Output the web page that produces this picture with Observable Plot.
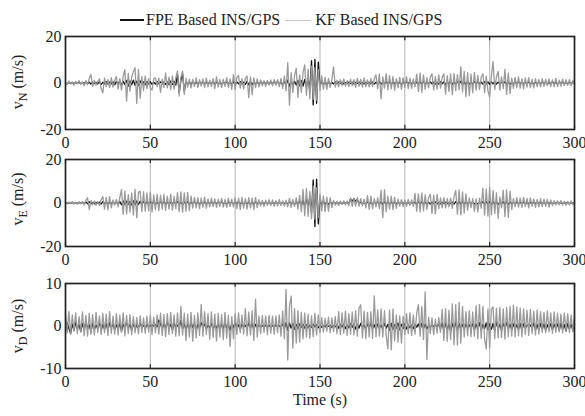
<!DOCTYPE html>
<html><head><meta charset="utf-8">
<script src="https://cdn.jsdelivr.net/npm/d3@7"></script>
<script src="https://cdn.jsdelivr.net/npm/@observablehq/plot@0.6"></script>
<style>
body{margin:0;background:#fff;}
#wrap{position:relative;width:585px;height:416px;font-family:"Liberation Serif","Times New Roman",serif;color:#222;}
#wrap svg{display:block;}
.legend{position:absolute;top:10px;left:120px;height:20px;display:flex;align-items:center;font-size:16px;white-space:nowrap;}
.legend .sw{display:inline-block;width:24px;margin-right:2px;}
.ylab{position:absolute;left:20px;width:0;height:0;font-size:16px;white-space:nowrap;}
.ylab span.in{position:absolute;transform:translate(-50%,-50%) rotate(-90deg);white-space:nowrap;}
.ylab sub{font-size:12px;}
</style>
</head><body>
<div id="wrap"></div>
<script>
// x ticks and y ticks
const xTicks = [0, 50, 100, 150, 200, 250, 300];
const yTicksNE = [-20, 0, 20];
const yTicksD = [-10, 0, 10];
const legendLabels = ["FPE Based INS/GPS", "KF Based INS/GPS"];
const xLabel = "Time (s)";

// v_N, KF based (gray), 1 s samples t = 0..300
const kfN = [
0.4,-0.6,0.8,-0.5,0.3,-0.9,0.7,-0.4,1.0,-0.6,
0.5,-1.2,1.1,-0.8,2.0,3.6,-1.5,1.2,-0.9,0.6,
1.8,-2.4,-4.2,2.1,-1.6,1.4,-2.0,2.3,-1.8,1.0,
2.8,-2.6,1.9,-3.1,3.0,5.7,-7.8,4.2,-3.5,2.6,
4.8,6.6,-8.8,5.9,-6.5,2.8,-3.2,3.0,-2.4,1.9,
-2.2,-3.0,1.8,2.2,-1.6,2.1,-4.0,1.7,-1.9,4.3,
-2.1,2.5,-2.8,3.0,-2.6,2.2,5.2,-5.6,2.4,5.1,
-4.9,2.0,-1.8,1.7,-2.1,1.6,-1.5,2.2,-1.9,1.4,
-1.3,1.8,-2.0,2.1,-1.7,1.2,-1.5,1.9,-2.4,2.6,
-1.8,1.5,-2.0,1.6,-1.4,2.2,-1.9,1.8,-2.7,3.6,
-2.8,2.4,3.1,-2.2,1.9,-2.6,2.0,3.0,-6.3,2.6,
-5.0,2.2,-2.0,1.8,-1.7,1.3,-1.2,1.0,-1.4,1.1,
-0.9,1.3,-1.2,1.5,-1.0,1.4,-1.6,2.0,-2.3,3.0,
-3.4,8.8,-9.6,4.5,-4.1,3.2,6.3,-6.2,3.5,-4.0,
4.6,7.8,-5.3,6.0,-6.8,7.2,-7.0,6.6,-7.4,5.8,
-3.2,3.0,-2.6,2.4,-2.8,2.0,-1.9,1.6,6.9,-1.8,
1.2,-1.6,1.4,-1.1,1.8,-1.3,1.0,-1.5,1.7,-1.2,
1.5,-1.9,2.0,-1.4,1.6,-1.8,2.2,-1.6,1.3,-1.7,
2.0,-1.5,1.8,3.5,-2.4,3.9,-6.8,2.6,-2.2,4.0,
-2.9,3.2,-2.5,2.8,-3.1,1.9,-2.0,2.4,-2.6,2.2,
-1.9,2.6,-2.4,2.1,-2.3,1.8,-1.7,3.8,-3.6,4.3,
-4.0,3.5,-2.8,2.3,-2.1,2.6,3.9,-3.0,2.8,-2.6,
3.5,-2.2,2.4,4.0,-4.8,3.2,-3.6,3.9,-5.0,4.1,
-3.3,3.6,-2.9,7.0,-3.8,5.0,-5.9,4.4,-5.5,3.8,
-4.2,4.6,-3.1,3.3,-2.8,2.5,4.0,-4.1,2.9,-3.4,
-6.0,3.1,9.2,-2.8,2.6,5.0,-3.1,2.7,-2.4,5.9,
-4.9,4.3,-4.6,2.1,-2.3,2.4,-2.0,2.6,-2.2,1.9,
-2.5,2.2,-1.8,2.3,-2.0,1.7,-2.1,1.9,-1.6,1.5,
-1.7,1.9,-1.4,1.6,-1.2,1.8,-1.5,1.3,-1.6,2.0,
-1.4,1.2,-1.3,1.6,-1.1,1.4,-1.0,1.5,-1.2,1.1,
-0.8];

// v_N, FPE based (black)
const fpeN = [
0.1,-0.3,0.2,-0.2,0.3,-0.4,0.2,-0.1,0.3,-0.3,
0.2,-0.2,0.4,-0.3,0.3,-0.5,0.4,-0.2,0.3,-0.4,
0.5,-0.6,0.3,-0.4,0.6,-0.5,0.4,-0.3,0.5,-0.7,
0.6,-0.5,0.8,-0.9,0.7,-0.6,1.1,-1.3,0.9,-0.8,
1.2,-1.0,0.8,-1.1,0.9,-0.6,0.5,-0.7,0.6,-0.4,
0.5,-0.6,0.4,-0.5,0.6,-0.4,0.5,-0.3,0.4,-0.6,
0.5,-0.7,0.8,-0.6,0.7,-0.9,3.8,-4.1,1.0,3.9,
-3.6,0.6,-0.5,0.4,-0.6,0.5,-0.4,0.3,-0.5,0.4,
-0.3,0.5,-0.4,0.3,-0.5,0.4,-0.3,0.6,-0.5,0.4,
-0.4,0.3,-0.5,0.4,-0.3,0.5,-0.4,0.6,-0.7,0.5,
-0.6,0.5,-0.4,0.6,-0.5,0.4,-0.6,0.7,-0.8,0.6,
-0.7,0.5,-0.4,0.3,-0.5,0.4,-0.3,0.5,-0.4,0.3,
-0.5,0.4,-0.3,0.5,-0.4,0.6,-0.5,0.4,-0.6,0.7,
-0.8,1.2,-1.4,0.9,-1.0,0.8,-0.9,1.1,-1.2,1.0,
-1.3,1.5,-1.8,2.4,-3.5,9.6,-9.4,10.1,-8.7,9.0,
-1.2,0.8,-0.6,0.5,-0.7,0.4,-0.5,0.3,-0.4,0.5,
-0.3,0.4,-0.2,0.3,-0.4,0.2,-0.3,0.4,-0.2,0.3,
-0.4,0.3,-0.2,0.4,-0.3,0.2,-0.4,0.3,-0.2,0.3,
-0.3,0.4,-0.5,0.3,-0.4,0.6,-0.5,0.4,-0.3,0.5,
-0.4,0.3,-0.5,0.4,-0.3,0.5,-0.4,0.3,-0.5,0.4,
-0.3,0.4,-0.2,0.5,-0.4,0.3,-0.5,0.4,-0.3,0.5,
-0.4,0.6,-0.5,0.4,-0.3,0.5,-0.4,0.3,-0.5,0.4,
-0.5,0.6,-0.4,0.5,-0.7,0.6,-0.5,0.7,-0.6,0.5,
-0.6,0.7,-0.5,0.8,-0.6,0.5,-0.7,0.6,-0.5,0.4,
-0.5,0.6,-0.4,0.5,-0.3,0.4,-0.5,0.6,-0.4,0.5,
-0.6,0.5,-0.4,0.6,-0.5,0.4,-0.3,0.5,-0.4,0.6,
-0.5,0.4,-0.6,0.3,-0.4,0.5,-0.3,0.4,-0.2,0.3,
-0.4,0.3,-0.2,0.4,-0.3,0.2,-0.4,0.3,-0.2,0.3,
-0.3,0.4,-0.2,0.3,-0.4,0.2,-0.3,0.4,-0.2,0.3,
-0.4,0.3,-0.2,0.3,-0.3,0.2,-0.4,0.3,-0.2,0.3,
-0.2];

// v_E, KF based (gray)
const kfE = [
0.3,-0.4,0.5,-0.3,0.6,-0.5,0.4,-0.6,0.5,-0.4,
0.7,-0.9,1.2,2.4,-3.0,1.1,-0.8,0.9,-1.0,0.7,
-1.2,1.5,3.0,-2.8,2.6,-3.1,2.9,-2.2,1.4,-1.0,
1.6,-1.8,2.5,6.2,-5.3,5.6,-5.0,3.8,-4.2,4.6,
-5.5,6.3,-6.8,4.9,5.4,-4.0,5.2,-3.8,4.6,-3.6,
5.0,-4.1,3.7,-3.2,4.0,-3.5,3.6,-2.9,3.9,-3.4,
3.2,-2.8,4.1,-3.3,3.0,-2.6,4.8,-3.9,5.1,-4.2,
4.6,-3.8,4.9,-3.5,3.2,-2.4,2.6,-2.2,2.5,-2.6,
2.3,-2.0,2.7,-2.4,1.9,-1.8,2.2,-1.7,1.9,-2.0,
1.8,-1.6,2.1,-1.9,1.7,-2.0,2.2,-1.5,1.8,-1.9,
2.4,-2.6,2.2,-3.0,2.6,-2.4,2.0,-2.8,2.5,-2.2,
2.3,-3.0,2.6,-2.1,1.5,-1.4,1.2,-1.6,1.3,-1.1,
1.5,-1.2,1.4,-1.5,1.1,-1.3,1.6,-1.2,1.0,-1.4,
1.3,-1.8,2.1,-2.0,1.7,-1.6,2.4,-2.8,3.5,-4.0,
6.3,-5.8,6.6,-6.1,5.4,-7.2,7.8,-7.5,7.0,-6.6,
4.0,-3.6,3.1,-4.0,2.7,-3.8,2.4,-2.1,1.2,-1.0,
0.8,-1.1,0.9,-0.7,1.0,-0.8,0.9,-1.2,2.4,-1.5,
2.2,-1.4,2.5,-1.6,2.0,-1.3,1.8,-2.2,3.4,-2.9,
3.2,-2.7,2.0,-1.8,2.4,-2.6,5.9,-6.8,6.1,-4.0,
3.0,-2.8,3.2,-3.0,2.6,-2.5,1.8,-1.4,1.5,-1.6,
1.3,-1.5,1.6,-1.2,1.4,-1.6,4.4,-3.8,4.2,-4.1,
4.6,-3.6,3.8,-2.9,2.5,4.0,-4.8,3.6,-5.0,3.9,
-2.6,2.4,-2.2,2.5,-2.3,2.0,-1.8,2.2,-2.5,3.0,
5.8,-5.2,6.0,-5.5,5.1,-4.6,4.2,-3.3,2.4,-2.1,
2.0,-3.8,1.9,-4.1,2.2,-2.4,6.8,-5.6,6.4,-6.0,
7.1,-5.4,5.8,-4.8,4.6,-7.0,2.8,-2.2,5.9,-6.3,
6.0,-6.6,5.5,-3.0,2.0,-1.8,2.5,-1.9,2.3,-2.0,
2.6,-1.7,2.1,-2.2,2.4,-1.6,1.9,-2.0,1.7,-1.8,
2.0,-1.6,1.8,-1.5,1.7,-1.9,1.4,-1.2,1.1,-0.9,
1.0,-0.8,1.1,-0.9,0.8,-1.0,0.7,-0.9,1.0,-0.8,
0.6];

// v_E, FPE based (black)
const fpeE = [
0.2,-0.3,0.2,-0.2,0.3,-0.3,0.2,-0.2,0.3,-0.2,
0.3,-0.4,0.5,-0.4,0.6,-0.5,0.3,-0.4,0.3,-0.2,
0.4,-0.5,0.6,-0.4,0.5,-0.6,0.4,-0.3,0.5,-0.4,
0.5,-0.6,0.7,-0.8,0.9,-0.7,0.8,-0.6,0.7,-0.9,
1.0,-0.8,0.9,-0.7,0.8,-0.6,0.7,-0.5,0.6,-0.5,
0.6,-0.4,0.5,-0.6,0.4,-0.5,0.6,-0.4,0.5,-0.3,
0.4,-0.5,0.3,-0.4,0.5,-0.3,0.6,-0.5,0.4,-0.6,
0.5,-0.4,0.6,-0.5,0.4,-0.3,0.5,-0.4,0.3,-0.4,
0.3,-0.5,0.4,-0.3,0.5,-0.4,0.3,-0.4,0.5,-0.3,
0.4,-0.3,0.5,-0.4,0.3,-0.5,0.4,-0.3,0.4,-0.4,
0.5,-0.4,0.6,-0.5,0.4,-0.6,0.5,-0.4,0.3,-0.5,
0.4,-0.6,0.5,-0.3,0.4,-0.3,0.2,-0.4,0.3,-0.2,
0.3,-0.4,0.2,-0.3,0.4,-0.2,0.3,-0.4,0.2,-0.3,
0.4,-0.5,0.6,-0.4,0.5,-0.7,0.8,-0.9,1.0,-1.2,
1.4,-1.6,2.0,-2.4,3.0,-4.5,10.6,-10.8,11.0,-9.6,
2.1,-1.2,0.8,-0.7,0.5,-0.6,0.4,-0.3,0.4,-0.2,
0.3,-0.2,0.2,-0.3,0.2,-0.2,0.3,-0.2,1.8,0.9,
2.0,0.8,1.6,-0.3,0.4,-0.3,0.3,-0.4,0.5,-0.4,
0.3,-0.5,0.4,-0.3,0.4,-0.5,0.6,-0.7,0.5,-0.4,
0.5,-0.3,0.4,-0.4,0.3,-0.3,0.2,-0.3,0.2,-0.2,
0.3,-0.2,0.2,-0.3,0.2,-0.3,0.4,-0.5,0.6,-0.4,
0.5,-0.4,0.3,-0.4,0.3,-0.5,0.4,-0.3,0.5,-0.4,
0.3,-0.4,0.3,-0.2,0.4,-0.3,0.2,-0.3,0.4,-0.5,
0.6,-0.5,0.7,-0.6,0.5,-0.4,0.5,-0.3,0.4,-0.3,
0.3,-0.4,0.2,-0.5,0.3,-0.4,0.6,-0.5,0.7,-0.6,
0.8,-0.6,0.7,-0.5,0.4,-0.6,0.3,-0.4,0.6,-0.7,
0.7,-0.6,0.5,-0.4,0.3,-0.2,0.3,-0.2,0.3,-0.2,
0.3,-0.3,0.2,-0.3,0.2,-0.2,0.3,-0.2,0.3,-0.2,
0.2,-0.3,0.2,-0.2,0.3,-0.2,0.2,-0.3,0.2,-0.2,
0.3,-0.2,0.2,-0.3,0.2,-0.2,0.3,-0.2,0.2,-0.3,
0.2];

// v_D, KF based (gray)
const kfD = [
2.8,-1.6,3.4,-2.0,2.6,-1.2,3.1,-1.8,2.2,-1.4,
3.3,-2.3,2.5,-2.4,3.0,-1.9,2.7,-2.1,3.2,-1.5,
2.4,-2.0,3.0,-1.6,2.8,-2.2,3.4,-1.7,2.3,-1.9,
2.9,-2.1,2.6,-1.5,3.1,-2.3,2.5,-1.8,2.7,-2.0,
2.2,-1.6,2.0,-1.8,2.4,-1.5,1.9,-1.7,2.3,-1.4,
2.5,-2.0,2.1,-1.6,2.6,-1.9,3.0,-2.2,2.7,-2.5,
2.9,-2.0,3.2,-1.8,2.6,-2.4,3.1,-2.3,4.6,-2.1,
3.0,-3.4,2.8,-2.6,3.2,-3.6,2.5,-2.8,3.1,-2.2,
5.1,-2.4,3.4,-2.0,2.9,-3.1,3.3,-2.7,2.8,-3.5,
3.0,-2.6,2.7,-3.2,3.2,-2.9,2.5,-4.8,2.2,-3.0,
2.9,-2.0,3.1,-1.6,2.6,-1.9,4.1,-2.3,3.3,-2.1,
3.6,-3.4,6.3,-2.6,2.4,-1.8,2.5,-1.5,2.4,-2.0,
2.5,-1.7,2.3,-1.9,2.4,-1.6,2.6,-2.4,3.5,-3.0,
8.6,-8.0,4.8,7.0,-5.2,4.1,-4.0,3.6,-3.8,3.2,
-3.0,3.1,-2.6,2.8,-2.9,2.4,-2.5,3.0,-2.1,2.6,
-1.5,2.0,-1.4,1.8,-1.2,2.1,-1.6,1.9,-1.3,2.2,
-1.8,3.4,-2.0,3.1,-1.7,3.5,-2.2,2.9,-1.9,3.3,
-2.1,3.6,-2.4,4.2,5.0,-2.8,3.5,-3.0,3.2,-2.6,
3.4,-2.9,7.1,-2.5,3.8,-2.4,4.0,-2.6,3.6,-2.2,
-5.4,3.8,-5.6,4.0,-3.5,2.6,-3.8,2.4,-4.0,2.3,
-2.0,2.9,-1.8,3.1,-2.2,2.6,-1.9,3.0,5.0,-2.4,
4.6,-3.2,8.0,-7.9,2.1,-1.8,1.9,-2.0,1.6,-1.7,
2.0,-1.5,3.9,-3.4,4.1,-3.6,3.7,-3.2,5.2,-4.4,
5.0,-4.5,5.6,-4.0,4.6,-2.6,3.4,-2.3,3.6,-2.5,
3.3,-2.4,4.8,-3.0,5.1,-2.9,4.6,-3.1,-5.4,4.0,
-5.2,3.9,4.5,-3.0,4.2,-2.8,4.4,-2.7,4.0,-3.1,
4.3,-2.5,4.6,-2.4,4.9,-2.6,4.5,-2.3,4.2,-2.5,
4.0,-2.0,3.7,-2.2,3.9,-1.8,3.5,-2.1,3.8,-1.9,
3.4,-1.5,3.2,-1.6,3.6,-1.4,3.1,-1.7,3.3,-1.5,
3.0,-1.4,2.8,-1.6,3.1,-1.3,2.9,-1.5,2.6,-1.4,
2.5];

// v_D, FPE based (black)
const fpeD = [
-1.2,0.8,-0.6,-1.8,0.5,-1.0,0.9,-0.7,0.4,-1.3,
0.6,-0.9,1.0,-0.5,0.3,-1.4,0.7,-0.8,0.2,-0.6,
0.9,-1.1,0.4,-0.7,0.6,-1.0,0.8,-0.4,0.5,-0.9,
0.3,-0.8,0.7,-1.2,0.5,-0.6,0.9,-0.5,0.4,-1.0,
0.6,-0.7,0.3,-0.5,0.8,-0.4,0.2,-0.6,0.4,-0.3,
0.1,0.2,0.0,0.3,-0.2,1.4,0.5,-0.8,0.6,-0.4,
1.1,-0.6,0.4,-0.9,0.7,-0.3,0.2,-0.5,1.3,-0.7,
0.5,-0.8,0.3,-0.6,0.9,-0.4,0.6,-1.0,0.4,-0.5,
0.8,-0.3,0.5,-0.7,0.2,-0.4,0.6,-0.8,0.3,-0.5,
0.7,-0.9,0.4,-0.6,0.9,-0.5,0.3,-1.1,0.6,-0.4,
1.0,-0.6,0.3,-0.8,0.5,-0.3,0.2,-0.5,0.7,-0.4,
0.6,-0.9,0.4,-0.3,0.2,-0.2,0.1,-0.3,0.2,-0.1,
0.2,-0.3,0.1,-0.2,0.3,-0.2,0.1,-0.4,0.5,-0.6,
0.8,-1.0,0.7,-0.5,0.6,-0.8,0.4,-0.6,0.5,-0.3,
0.4,-0.5,0.3,-0.4,0.2,-0.3,0.4,-0.2,0.3,-0.4,
0.2,-0.3,0.1,-0.2,0.3,-0.1,0.2,-0.3,0.1,-0.2,
0.3,-0.5,0.4,-0.2,0.5,-0.6,0.3,-0.4,0.6,-0.3,
0.5,-0.7,0.4,-0.5,0.6,-0.3,0.2,-0.8,0.5,-0.4,
0.7,-0.6,0.3,-0.9,0.5,-0.4,0.2,-0.7,0.6,-0.5,
0.4,-1.0,0.6,-0.8,0.3,-0.5,0.7,-0.9,0.4,-0.6,
0.5,-0.7,0.3,-0.4,0.2,-0.6,0.4,-0.3,0.5,-0.8,
0.6,-0.5,0.4,-0.7,0.1,-0.2,0.2,-0.1,0.3,-0.2,
0.5,-0.6,0.8,-1.1,0.7,-0.9,0.5,-1.2,0.6,-0.8,
0.9,-1.0,0.6,-0.7,0.4,-0.8,0.5,-0.4,0.3,-0.6,
0.6,-0.9,0.5,-0.7,0.8,-1.0,0.4,-0.6,0.7,-0.9,
0.5,-0.8,0.6,-1.1,0.9,-0.7,0.4,-1.0,0.6,-0.5,
0.8,-0.6,0.4,-0.9,0.5,-0.7,0.3,-0.8,0.6,-1.0,
0.5,-0.4,0.1,0.3,0.2,-0.6,0.7,-0.9,0.4,-1.1,
0.6,-0.8,0.5,-1.0,0.3,-0.7,0.6,-0.9,0.4,-0.6,
0.5,-1.0,0.7,-0.8,0.3,-1.2,0.6,-0.7,0.4,-0.9,
0.3];

const time = d3.range(0, 301); // sample time in seconds

const FONT = '"Liberation Serif","Times New Roman",serif';
const BLACK = "#111";
const GRAY = "#9a9a9a";

function panel(fpe, kf, yDomain, yTicks, o) {
  const span = yDomain[1] - yDomain[0];
  const marks = [
    Plot.gridX(xTicks, {stroke: "#b4b4b4", strokeOpacity: 1, strokeWidth: 1}),
    Plot.lineY(fpe, {x: time, stroke: BLACK, strokeWidth: 1.3}),
    Plot.lineY(kf, {x: time, stroke: GRAY, strokeWidth: 1.3}),
    // inward ticks (MATLAB style)
    Plot.ruleX(xTicks, {x: d => d, y1: yDomain[0], y2: yDomain[0] + span * 0.045, stroke: "#222", strokeWidth: 1.2}),
    Plot.ruleX(xTicks, {x: d => d, y1: yDomain[1], y2: yDomain[1] - span * 0.045, stroke: "#222", strokeWidth: 1.2}),
    Plot.frame({stroke: "#222", strokeWidth: 1.7}),
    Plot.axisX(xTicks, {tickSize: 0, tickPadding: 7, label: null, fontSize: 16}),
    Plot.axisY(yTicks, {tickSize: 0, tickPadding: 4, label: null, fontSize: 16, tickFormat: d => String(d)})
  ];
  if (o.xlabel) marks.push(Plot.text([o.xlabel], {frameAnchor: "bottom", dy: 36, fontSize: 16, fill: "#222"}));
  return Plot.plot({
    width: 585, height: o.height,
    marginLeft: 65, marginRight: 11, marginTop: o.mt, marginBottom: o.mb,
    x: {domain: [0, 300]},
    y: {domain: yDomain},
    style: {fontFamily: FONT, fontSize: "16px", color: "#222", background: "#fff", overflow: "visible"},
    marks
  });
}

const wrap = document.getElementById("wrap");
wrap.appendChild(panel(fpeN, kfN, [-20, 20], yTicksNE, {height: 150, mt: 36, mb: 21}));
wrap.appendChild(panel(fpeE, kfE, [-20, 20], yTicksNE, {height: 118, mt: 9, mb: 22}));
wrap.appendChild(panel(fpeD, kfD, [-10, 10], yTicksD, {height: 148, mt: 15, mb: 48, xlabel: xLabel}));

// legend
const lg = document.createElement("div");
lg.className = "legend";
lg.innerHTML =
  `<span class="sw" style="border-top:2.5px solid ${BLACK}"></span><span>${legendLabels[0]}</span>` +
  `<span class="sw" style="border-top:1.5px solid #c4c4c4;margin-left:5px;width:26px"></span><span style="margin-left:2px">${legendLabels[1]}</span>`;
wrap.appendChild(lg);

// y labels with subscripts
const ylabs = [["N", 82], ["E", 199], ["D", 326]];
for (const [sub, cy] of ylabs) {
  const d = document.createElement("div");
  d.className = "ylab";
  d.style.top = cy + "px";
  d.innerHTML = `<span class="in">v<sub>${sub}</sub> (m/s)</span>`;
  wrap.appendChild(d);
}
</script>
</body></html>
